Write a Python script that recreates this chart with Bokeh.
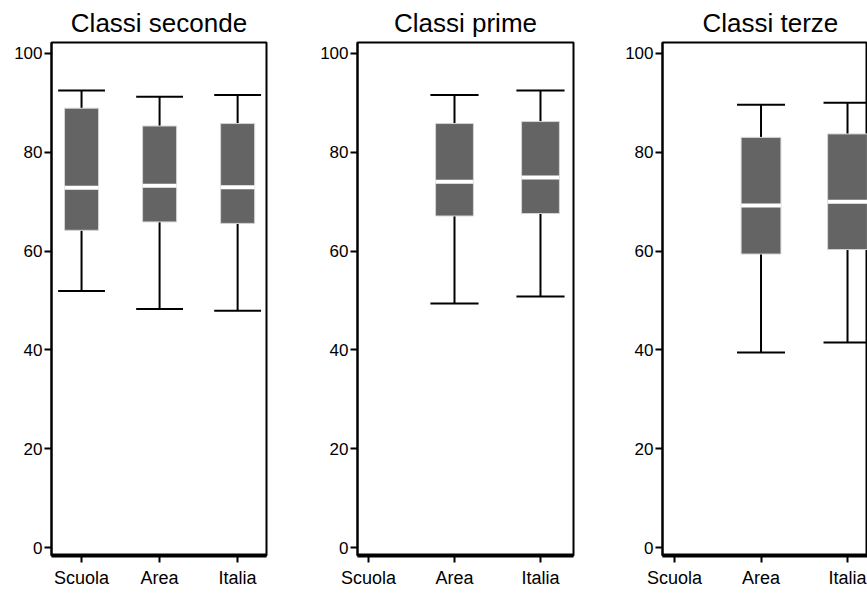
import math
from bokeh.plotting import figure
from bokeh.layouts import row
from bokeh.models import FixedTicker, ColumnDataSource
from bokeh.embed import file_html
from bokeh.resources import INLINE

NaN = float("nan")

categories = ["Scuola", "Area", "Italia"]
y_ticks = [0, 20, 40, 60, 80, 100]
titles = ["Classi seconde", "Classi prime", "Classi terze"]

# Classi seconde
seconde_low = [51.9, 48.3, 47.9]
seconde_q1 = [64.2, 65.9, 65.6]
seconde_median = [72.8, 73.2, 72.9]
seconde_q3 = [88.9, 85.3, 85.8]
seconde_high = [92.5, 91.2, 91.6]

# Classi prime (no data for Scuola)
prime_low = [NaN, 49.4, 50.8]
prime_q1 = [NaN, 67.1, 67.6]
prime_median = [NaN, 74.0, 74.9]
prime_q3 = [NaN, 85.8, 86.2]
prime_high = [NaN, 91.6, 92.5]

# Classi terze (no data for Scuola)
terze_low = [NaN, 39.5, 41.5]
terze_q1 = [NaN, 59.4, 60.3]
terze_median = [NaN, 69.2, 70.0]
terze_q3 = [NaN, 83.0, 83.7]
terze_high = [NaN, 89.6, 90.0]

FONT = "Liberation Sans"
BOX_COLOR = "#646464"


def make_panel(title, low, q1, med, q3, high, width, border_left, border_right,
               x_start, x_end, box_w, cap_w):
    idx = [i for i in range(len(categories)) if not math.isnan(med[i])]
    src = ColumnDataSource(dict(
        x=idx,
        low=[low[i] for i in idx],
        q1=[q1[i] for i in idx],
        med=[med[i] for i in idx],
        q3=[q3[i] for i in idx],
        high=[high[i] for i in idx],
        cl=[i - cap_w / 2 for i in idx],
        cr=[i + cap_w / 2 for i in idx],
        bl=[i - box_w / 2 for i in idx],
        br=[i + box_w / 2 for i in idx],
    ))
    p = figure(width=width, height=590, x_range=(x_start, x_end), y_range=(-1.6, 102.2),
               output_backend="svg", toolbar_location=None, title=title,
               min_border_left=border_left, min_border_right=border_right,
               min_border_top=0, min_border_bottom=0)
    # whiskers
    p.segment(x0="x", y0="q3", x1="x", y1="high", source=src, line_color="black", line_width=2)
    p.segment(x0="x", y0="low", x1="x", y1="q1", source=src, line_color="black", line_width=2)
    p.segment(x0="cl", y0="high", x1="cr", y1="high", source=src, line_color="black", line_width=2)
    p.segment(x0="cl", y0="low", x1="cr", y1="low", source=src, line_color="black", line_width=2)
    # boxes
    p.vbar(x="x", bottom="q1", top="q3", width=box_w, source=src,
           fill_color=BOX_COLOR, line_color="#d4d4d4", line_width=1)
    # median
    p.segment(x0="bl", y0="med", x1="br", y1="med", source=src, line_color="white", line_width=4)

    p.grid.visible = False
    p.outline_line_color = "black"
    p.outline_line_width = 2
    p.outline_line_alpha = 1
    p.background_fill_color = "white"
    p.border_fill_color = "white"

    p.title.text = title
    p.title.text_font = FONT
    p.title.text_font_size = "26px"
    p.title.text_font_style = "normal"
    p.title.text_color = "black"
    p.title.align = "center"

    p.xaxis.ticker = FixedTicker(ticks=list(range(len(categories))))
    p.xaxis.major_label_overrides = {i: c for i, c in enumerate(categories)}
    p.xaxis.axis_line_width = 4
    p.xaxis.axis_line_color = "black"
    p.xaxis.major_tick_line_width = 2
    p.xaxis.major_tick_line_color = "black"
    p.xaxis.major_tick_out = 7
    p.xaxis.major_tick_in = 0
    p.xaxis.minor_tick_line_color = None
    p.xaxis.major_label_standoff = 5
    p.xaxis.major_label_text_font = FONT
    p.xaxis.major_label_text_font_size = "18px"
    p.xaxis.major_label_text_color = "black"

    p.yaxis.ticker = FixedTicker(ticks=y_ticks)
    p.yaxis.axis_line_width = 2
    p.yaxis.axis_line_color = "black"
    p.yaxis.major_tick_line_width = 2
    p.yaxis.major_tick_line_color = "black"
    p.yaxis.major_tick_out = 7
    p.yaxis.major_tick_in = 0
    p.yaxis.minor_tick_line_color = None
    p.yaxis.major_label_standoff = 2
    p.yaxis.major_label_text_font = FONT
    p.yaxis.major_label_text_font_size = "17px"
    p.yaxis.major_label_text_color = "black"
    return p


p1 = make_panel(titles[0], seconde_low, seconde_q1, seconde_median, seconde_q3, seconde_high,
                300, 51, 34, -0.385, 2.37, 0.436, 0.6)
p2 = make_panel(titles[1], prime_low, prime_q1, prime_median, prime_q3, prime_high,
                310, 57, 37, -0.128, 2.384, 0.44, 0.56)
p3 = make_panel(titles[2], terze_low, terze_q1, terze_median, terze_q3, terze_high,
                257, 52, 0, -0.139, 2.231, 0.46, 0.555)
p3.title.align = "left"
p3.title.offset = 40

layout = row(p1, p2, p3)
open("out.html", "w").write(file_html(layout, INLINE))
